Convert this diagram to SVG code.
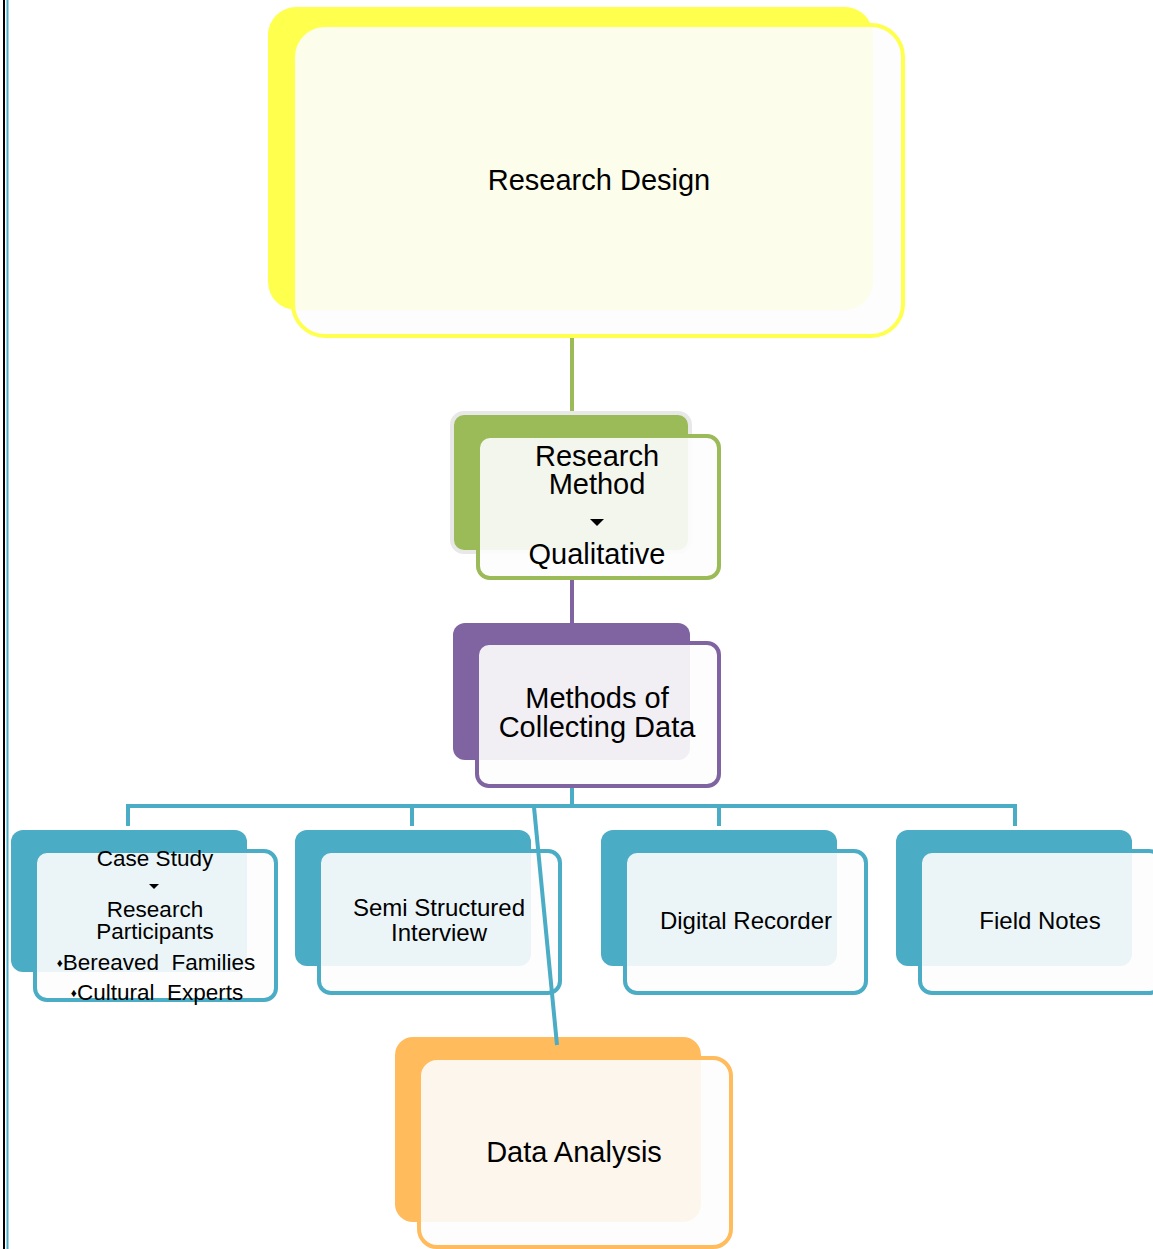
<svg xmlns="http://www.w3.org/2000/svg" width="1153" height="1249" viewBox="0 0 1153 1249">
<style>
text{font-family:"Liberation Sans",Arial,sans-serif;fill:#000;text-anchor:middle}
.big{font-size:29px}
.sm{font-size:24px}
.cs{font-size:22.5px;white-space:pre}
.front{fill:#fdfdfd;fill-opacity:0.9;stroke-width:4}
.c{fill:none;stroke-width:4}
</style>
<rect x="0" y="0" width="1153" height="1249" fill="#fff"/>
<line x1="4" y1="0" x2="4" y2="1249" stroke="#000" stroke-width="2"/>
<line x1="7.5" y1="0" x2="7.5" y2="1249" stroke="#4bacc6" stroke-width="2"/>

<g id="connectors">
<line class="c" x1="572" y1="337" x2="572" y2="414" stroke="#9bbb59"/>
<line class="c" x1="572" y1="578" x2="572" y2="624" stroke="#8064a2"/>
<path class="c" d="M572 787V806M128 826V806H1015V826M412 806V826M719 806V826" stroke="#4bacc6"/>
</g>

<g id="research-design">
<rect x="268" y="7" width="605" height="303" rx="28" fill="#ffff4d"/>
<rect class="front" x="293" y="25" width="610" height="311" rx="32" stroke="#ffff4d"/>
<text class="big" x="599" y="190">Research Design</text>
</g>

<g id="research-method">
<rect x="452" y="413" width="238" height="139" rx="12" fill="#9bbb59" stroke="#e8e8e8" stroke-width="4"/>
<rect class="front" x="478" y="436" width="241" height="142" rx="12" stroke="#9bbb59"/>
<text class="big" x="597" y="466">Research</text>
<text class="big" x="597" y="494">Method</text>
<polygon points="590,519 604,519 597,526" fill="#000"/>
<text class="big" x="597" y="564">Qualitative</text>
</g>

<g id="methods">
<rect x="453" y="623" width="237" height="137" rx="12" fill="#8064a2"/>
<rect class="front" x="477" y="643" width="242" height="143" rx="12" stroke="#8064a2"/>
<text class="big" x="597" y="708">Methods of</text>
<text class="big" x="597" y="737">Collecting Data</text>
</g>

<g id="case-study">
<rect x="11" y="830" width="236" height="142" rx="12" fill="#4bacc6"/>
<rect class="front" x="35" y="851" width="241" height="149" rx="12" stroke="#4bacc6"/>
<text class="cs" x="155" y="866">Case Study</text>
<polygon points="149,884 159,884 154,889" fill="#000"/>
<text class="cs" x="155" y="917">Research</text>
<text class="cs" x="155" y="939">Participants</text>
<text class="cs" x="156" y="970"><tspan font-size="12" dy="-3">♦</tspan><tspan dy="3">Bereaved  Families</tspan></text>
<text class="cs" x="157" y="1000"><tspan font-size="12" dy="-3">♦</tspan><tspan dy="3">Cultural  Experts</tspan></text>
</g>

<g id="semi-structured">
<rect x="295" y="830" width="236" height="136" rx="12" fill="#4bacc6"/>
<rect class="front" x="319" y="851" width="241" height="142" rx="12" stroke="#4bacc6"/>
<text class="sm" x="439" y="916">Semi Structured</text>
<text class="sm" x="439" y="941">Interview</text>
</g>

<g id="digital-recorder">
<rect x="601" y="830" width="236" height="136" rx="12" fill="#4bacc6"/>
<rect class="front" x="625" y="851" width="241" height="142" rx="12" stroke="#4bacc6"/>
<text class="sm" x="746" y="929">Digital Recorder</text>
</g>

<g id="field-notes">
<rect x="896" y="830" width="236" height="136" rx="12" fill="#4bacc6"/>
<rect class="front" x="920" y="851" width="241" height="142" rx="12" stroke="#4bacc6"/>
<text class="sm" x="1040" y="929">Field Notes</text>
</g>

<g id="data-analysis">
<rect x="395" y="1037" width="306" height="185" rx="18" fill="#ffbb5c"/>
<rect class="front" x="419" y="1058" width="312" height="189" rx="18" stroke="#ffbb5c"/>
<text class="big" x="574" y="1162">Data Analysis</text>
</g>

<g id="connectors-top">
<line class="c" x1="534" y1="807" x2="557" y2="1045" stroke="#4bacc6"/>
</g>
</svg>
